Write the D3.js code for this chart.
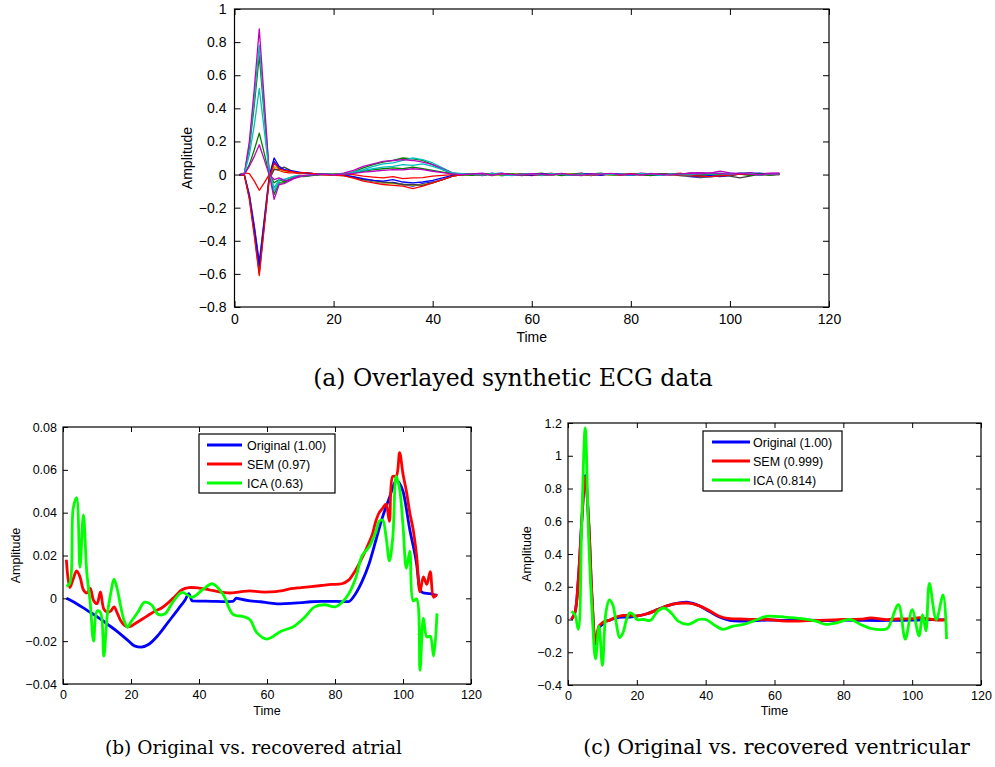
<!DOCTYPE html>
<html>
<head>
<meta charset="utf-8">
<script src="https://cdn.jsdelivr.net/npm/d3@7"></script>
<style>
  body { margin: 0; background: #fff; }
  svg text { font-family: "Liberation Sans", Arial, Helvetica, sans-serif; }
</style>
</head>
<body>
<svg id="chart" width="995" height="767"></svg>
<script>
// --- DATA ---

// (a) overlayed synthetic ECG, shared time grid
const ecgTime = [1,2,3,4,5,6,7,8,9,10,11,12,13,14,16,18,20,22,24,26,28,30,32,34,36,38,40,42,44,46,
  48,50,52,54,56,58,60,62,64,66,68,70,72,74,76,78,80,82,84,86,88,90,92,94,96,98,100,102,104,106,108,110];

const ecgBlue1 = [0,-0.005,-0.12,-0.31,-0.53,-0.27,-0.01,0.10,0.05,0.03,0.02,0.015,0.01,
  0.012,0.005,0,-0.002,-0.004,-0.014,-0.03,-0.042,-0.05,-0.048,-0.06,-0.07,-0.055,-0.045,-0.03,-0.01,0,
  0.004,-0.006,0.008,-0.004,0.003,-0.007,0.006,0,-0.005,0.007,-0.003,0.004,-0.006,0.005,-0.002,0.006,
  -0.004,0.003,-0.005,0.004,0.002,-0.006,-0.012,-0.018,-0.014,-0.008,0,0.006,0.01,-0.004,0.005,0.002];
const ecgGreen1 = [0,0.005,0.16,0.42,0.72,0.36,0.01,-0.12,-0.05,-0.05,-0.03,-0.02,-0.01,
  -0.012,-0.005,0,0.004,0.006,0.016,0.04,0.06,0.075,0.085,0.1,0.095,0.085,0.06,0.03,0.005,0,
  -0.004,0.005,-0.006,0.003,0.006,-0.005,0.002,0.008,-0.004,0.005,0,-0.006,0.004,0.009,-0.003,0.002,
  -0.005,0.006,0.003,-0.004,0.005,-0.002,0.008,0.006,-0.003,0.004,-0.006,0.002,0.007,-0.005,0.004,0];
const ecgRed1 = [0,0.01,0.005,-0.04,-0.095,-0.05,0,0.035,0.025,0.015,0.01,0.01,0.005,
  0.008,0.003,-0.002,0,0.005,0,-0.01,-0.015,-0.02,-0.012,-0.025,-0.02,-0.018,-0.01,-0.005,0,0.002,
  0.003,-0.004,0.006,-0.002,0.005,0,-0.006,0.004,0.007,-0.003,0.003,0.008,-0.002,0.004,-0.005,0.002,
  0.006,0,-0.004,0.005,0.003,0.008,-0.006,-0.004,0.002,0.006,-0.003,0.004,0,0.005,-0.002,0.003];
const ecgCyan1 = [0,0.004,0.18,0.46,0.78,0.4,0.02,-0.10,-0.04,-0.03,-0.02,-0.012,-0.005,
  -0.008,0,0.004,-0.002,0.006,0.015,0.03,0.05,0.065,0.07,0.085,0.1,0.09,0.07,0.04,0.01,0.005,
  0.006,-0.003,0.002,-0.008,0.004,0.001,0.005,-0.006,0.003,-0.002,0.006,-0.004,0.002,0.005,-0.003,0.004,
  0,-0.004,0.007,0.002,-0.003,0.004,0.006,0.01,0.004,-0.004,0.008,0.002,0.012,-0.003,0.006,0.004];
const ecgMagenta1 = [0,0.006,0.2,0.52,0.88,0.45,0.01,-0.15,-0.06,-0.055,-0.04,-0.025,-0.015,
  -0.01,-0.004,0.003,0,0.008,0.025,0.05,0.065,0.08,0.085,0.09,0.085,0.075,0.06,0.035,0.01,0,
  0.004,0.008,-0.003,0.005,0,0.006,-0.004,0.003,0.007,-0.002,0.004,0,0.006,-0.003,0.005,0.002,
  -0.002,0.008,0.004,0,0.006,0.003,0.01,0.012,0.008,0.02,0.01,0.006,0.012,0.004,0.008,0.01];
const ecgYellow1 = [0,-0.004,-0.13,-0.34,-0.57,-0.3,-0.02,0.05,0.03,0.02,0.02,0.015,0.01,
  0.01,0.004,0,-0.004,-0.006,-0.016,-0.03,-0.04,-0.05,-0.055,-0.06,-0.065,-0.06,-0.05,-0.03,-0.01,0,
  -0.003,0.004,0,-0.005,0.003,0.006,-0.002,0.004,-0.004,0.002,0.005,-0.003,0,0.004,-0.005,0.003,
  0.001,-0.004,0.005,0,-0.003,-0.006,-0.01,-0.014,-0.012,-0.006,-0.002,0.003,-0.003,0.004,0,0.002];
const ecgBlack = [0,-0.005,-0.14,-0.36,-0.60,-0.31,-0.03,0.03,0.03,0.045,0.03,0.015,0.012,
  0.01,0.006,0.002,-0.003,-0.007,-0.018,-0.03,-0.035,-0.045,-0.05,-0.06,-0.06,-0.065,-0.05,-0.03,-0.01,0,
  0.002,-0.004,0.005,0,-0.003,0.004,0.002,-0.005,0.003,0,-0.004,0.005,0.002,-0.003,0.004,-0.002,
  0.003,0,-0.005,0.004,0.001,-0.004,-0.008,-0.014,-0.01,-0.008,-0.01,-0.02,-0.01,0.002,-0.004,0];
const ecgBlue2 = [0,-0.004,-0.13,-0.33,-0.55,-0.29,-0.02,0.08,0.04,0.03,0.025,0.02,0.015,
  0.01,0.005,0.002,0,-0.004,-0.013,-0.025,-0.035,-0.04,-0.03,-0.045,-0.05,-0.045,-0.035,-0.02,-0.005,0,
  0.005,-0.002,0.004,0.008,-0.003,0.002,-0.005,0.006,0,0.004,-0.003,0.007,0.001,-0.004,0.005,0.002,
  -0.003,0.004,0,-0.004,0.003,-0.002,-0.008,-0.01,-0.006,-0.012,-0.004,0.003,0.006,0.008,0.002,0.004];
const ecgGreen2 = [0,0.003,0.06,0.15,0.25,0.13,0,-0.05,-0.03,-0.045,-0.03,-0.02,-0.01,
  -0.008,-0.003,0.002,0,0.003,0.009,0.02,0.03,0.035,0.04,0.035,0.045,0.035,0.025,0.015,0.005,0,
  -0.005,0.003,0.006,-0.002,0.004,-0.004,0.002,0,0.005,-0.006,0.003,0.002,-0.004,0.006,0,-0.003,
  0.004,0.002,-0.006,0.003,0,0.005,0.002,-0.004,0.004,0.006,-0.002,0.003,-0.005,0.004,-0.003,0.002];
const ecgRed2 = [0,-0.005,-0.15,-0.37,-0.61,-0.32,-0.03,0.07,0.035,0.025,0.02,0.015,0.01,
  0.012,0.006,0,-0.005,-0.007,-0.022,-0.04,-0.05,-0.06,-0.065,-0.07,-0.085,-0.07,-0.05,-0.03,-0.01,0,
  0.004,-0.003,0.002,0.006,-0.004,0.003,0,-0.005,0.004,0.006,-0.002,0.003,-0.005,0.002,0.005,-0.003,
  0.004,0,0.006,-0.002,0.003,-0.004,-0.006,-0.01,-0.012,-0.008,-0.004,0.002,0.005,0,0.004,0.002];
const ecgCyan2 = [0,0.004,0.12,0.3,0.52,0.27,0.01,-0.08,-0.03,-0.03,-0.02,-0.01,-0.008,
  -0.006,0,0.003,0,0.004,0.01,0.025,0.035,0.045,0.05,0.06,0.055,0.065,0.05,0.03,0.01,0.002,
  0.003,-0.004,0.005,0,-0.006,0.002,0.004,-0.005,0.006,0.001,-0.003,0.004,-0.002,0.005,0,0.003,
  -0.004,0.006,0.002,-0.005,0.004,0,-0.002,0.006,0.004,0.008,0,0.01,0.006,-0.002,0.004,0.003];
const ecgMagenta2 = [0,0.003,0.05,0.11,0.18,0.09,0,-0.03,-0.02,-0.035,-0.035,-0.02,-0.01,
  -0.006,0,0.003,-0.002,0.003,0.007,0.015,0.02,0.025,0.03,0.028,0.035,0.03,0.02,0.012,0.004,0,
  0.002,0.006,-0.003,0.004,0,-0.004,0.005,0.003,-0.002,0.006,0,-0.005,0.004,0.002,0.007,-0.002,
  0.003,-0.004,0.005,0.001,-0.003,0.004,0.007,0.004,0.01,0.006,0.002,0.008,0.003,-0.002,0.006,0.002];

const ecgSeries = [ecgBlue1, ecgGreen1, ecgRed1, ecgCyan1, ecgMagenta1, ecgYellow1,
  ecgBlack, ecgBlue2, ecgGreen2, ecgRed2, ecgCyan2, ecgMagenta2];
const ecgColors = ["#0000ff", "#008000", "#ff0000", "#00bfbf", "#bf00bf", "#bfbf00",
  "#404040", "#0000ff", "#008000", "#ff0000", "#00bfbf", "#bf00bf"];

// (b) atrial source
const atrialOrigTime = [1,4,7,10,13,16,19,21,23,25,28,31,34,36,37,38,41,44,47,50,51,52,55,58,61,64,67,70,73,76,79,
  82,84,86,88,90,92,94,96,98,100,102,104,105,106,108,110];
const atrialOrig = [0,-0.0025,-0.0055,-0.0085,-0.012,-0.0155,-0.0195,-0.0222,-0.0228,-0.0217,-0.0172,
  -0.011,-0.0048,-0.0005,0.0022,-0.0012,-0.0013,-0.0014,-0.0015,-0.0014,0.0001,
  -0.0003,-0.0012,-0.0016,-0.0022,-0.0026,-0.0024,-0.002,-0.0016,-0.0014,-0.0014,
  -0.0015,-0.0015,0.002,0.008,0.016,0.027,0.038,0.047,0.055,0.05,0.032,0.016,0.004,0.0025,0.0022,0.0012];

const atrialSemTime = [1,2,3,4,5,6,7,8,9,10,11,12,13,14,15,16,17,18,19,20,21,23,25,27,29,31,33,35,37,
  40,43,46,49,52,55,58,61,64,67,70,73,76,79,82,84,86,88,90,
  91,92,93,94,95,96,97,98,99,100,101,102,103,104,105,106,107,108,109,110];
const atrialSem = [0.018,0.005,0.009,0.0128,0.01,0.004,0.0025,0.0046,-0.001,-0.0025,0.003,-0.005,-0.0065,
  -0.006,-0.004,-0.007,-0.0105,-0.0125,-0.0133,-0.013,-0.012,
  -0.01,-0.008,-0.006,-0.0045,-0.002,0.001,0.004,0.005,
  0.0048,0.004,0.003,0.0025,0.003,0.0035,0.003,0.003,0.0035,0.0045,0.005,0.0055,0.006,0.0065,0.0068,
  0.0085,0.013,0.019,0.026,
  0.03,0.036,0.04,0.042,0.044,0.036,0.057,0.057,0.068,0.058,0.05,0.04,0.032,0.02,0.003,0.01,0.0065,0.0125,0.0005,0.002];

const atrialIcaTime = [1,2,3,4,5,6,7,8,9,10,11,12,13,14,15,16,17,18,19,20,22,24,26,28,30,32,
  35,38,41,44,47,50,53,55,57,60,64,68,71,74,77,80,82,84,86,88,90,92,
  93,94,95,96,97,98,99,100,101,102,103,104,105,106,107,108,109,110];
const atrialIca = [0.0056,0.007,0.042,0.047,0.0145,0.039,0.012,-0.002,-0.02,-0.006,-0.0065,-0.027,-0.008,0.002,0.0089,0.004,-0.004,-0.0105,-0.0135,-0.011,
  -0.0065,-0.0018,-0.003,-0.0075,-0.0072,-0.0025,
  0.0028,0.0005,0.004,0.0068,0.002,-0.0075,-0.0085,
  -0.01,-0.016,-0.019,-0.0155,-0.013,-0.009,-0.004,-0.003,-0.004,-0.002,0.002,0.009,0.02,0.024,0.031,
  0.036,0.0365,0.029,0.0175,0.0285,0.057,0.051,0.034,0.014,0.022,-0.0012,-0.0003,-0.0336,-0.0093,-0.018,-0.0177,-0.027,-0.007];

// (c) ventricular source
const ventOrigTime = [1,2,3,4,5,6,7,8,9,10,11,12,14,16,18,20,23,26,29,32,35,38,41,44,47,50,
  54,58,62,66,70,75,80,85,90,95,100,103,106,110];
const ventOrig = [0,0.04,0.25,0.6,0.88,0.6,0.12,-0.15,-0.05,-0.03,-0.01,-0.005,
  0.01,0.015,0.015,0.02,
  0.035,0.06,0.085,0.1,0.105,0.085,0.05,0.015,-0.005,-0.01,
  -0.008,-0.003,-0.005,-0.006,-0.004,-0.006,-0.004,-0.005,-0.006,-0.005,-0.004,-0.002,-0.001,-0.002];

const ventSemTime = [1,2,3,4,5,6,7,8,9,10,11,12,14,16,18,20,23,26,29,32,35,38,41,44,47,50,
  54,58,62,66,70,75,80,85,88,92,96,100,102,104,106,108,110];
const ventSem = [0,0.04,0.24,0.6,0.87,0.6,0.13,-0.14,-0.04,-0.02,-0.01,-0.005,
  0.015,0.025,0.025,0.022,
  0.035,0.06,0.085,0.098,0.1,0.085,0.055,0.02,0.005,0.003,
  0,0,-0.008,-0.01,-0.006,-0.004,0,0.002,0.01,0,0.003,0.005,0.012,0.005,0,-0.004,0];

const ventIcaTime = [1,2,3,4,5,6,7,8,9,10,11,12,13,14,15,16,17,18,19,20,22,24,26,28,30,32,
  35,38,40,43,45,48,51,55,58,63,68,72,75,78,82,85,88,92,93,96,98,100,102,103,104,105,107,109,110];
const ventIca = [0.05,0.03,-0.06,0.6,1.17,0.5,0.05,-0.24,-0.04,-0.28,0.04,0.12,0.09,-0.02,-0.11,-0.08,0,0.04,0.03,0,
  0,-0.005,0.05,0.07,0.04,-0.01,
  -0.03,0,0,-0.04,-0.06,-0.04,-0.03,
  0,0.02,0.015,0.005,-0.01,-0.03,-0.02,0,-0.03,-0.055,
  -0.06,-0.05,0.09,-0.12,0.06,-0.1,0.03,-0.07,0.22,0,0.15,-0.12];

// tick values and labels
const timeTicks = [0, 20, 40, 60, 80, 100, 120];
const ecgTicks = [-0.8, -0.6, -0.4, -0.2, 0, 0.2, 0.4, 0.6, 0.8, 1];
const atrialTicks = [-0.04, -0.02, 0, 0.02, 0.04, 0.06, 0.08];
const ventTicks = [-0.4, -0.2, 0, 0.2, 0.4, 0.6, 0.8, 1, 1.2];
const atrialLegend = ["Original (1.00)", "SEM (0.97)", "ICA (0.63)"];
const ventLegend = ["Original (1.00)", "SEM (0.999)", "ICA (0.814)"];
const legendColors = ["#0000ff", "#ff0000", "#00ff00"];
const captions = ["(a)  Overlayed synthetic ECG data", "(b)  Original vs. recovered atrial", "(c)  Original vs. recovered ventricular"];

// --- DRAWING ---

const svg = d3.select("#chart");
svg.append("rect").attr("width", 995).attr("height", 767).attr("fill", "#fff");

const fmt = v => d3.format("~g")(+v.toFixed(4));

// Draws one MATLAB-style axes box with inward ticks on all four sides
function drawPanel(opt) {
  const g = svg.append("g");
  const x = d3.scaleLinear().domain([0, 120]).range([opt.left, opt.right]);
  const y = d3.scaleLinear().domain([opt.yTicks[0], opt.yTicks[opt.yTicks.length - 1]]).range([opt.bottom, opt.top]);

  opt.series.forEach(s => {
    const line = d3.line().x(d => x(d[0])).y(d => y(d[1])).curve(s.curve || d3.curveLinear);
    g.append("path")
      .datum(d3.zip(s.t, s.v))
      .attr("d", line)
      .attr("fill", "none")
      .attr("stroke", s.color)
      .attr("stroke-width", opt.lw)
      .attr("stroke-linejoin", "round");
  });

  const styleAxis = sel => {
    sel.select(".domain").remove();
    sel.selectAll("line").attr("stroke", "#000").attr("stroke-width", 1);
    sel.attr("font-size", opt.fs).attr("font-family", null);
    sel.selectAll("text").attr("fill", "#000");
  };

  g.append("g").attr("transform", `translate(0,${opt.bottom})`)
    .call(d3.axisBottom(x).tickValues(timeTicks).tickSizeInner(-opt.tick).tickSizeOuter(0).tickPadding(opt.padX).tickFormat(fmt))
    .call(styleAxis);
  g.append("g").attr("transform", `translate(0,${opt.top})`)
    .call(d3.axisTop(x).tickValues(timeTicks).tickSizeInner(-opt.tick).tickSizeOuter(0).tickFormat(""))
    .call(styleAxis);
  g.append("g").attr("transform", `translate(${opt.left},0)`)
    .call(d3.axisLeft(y).tickValues(opt.yTicks).tickSizeInner(-opt.tick).tickSizeOuter(0).tickPadding(opt.padY).tickFormat(fmt))
    .call(styleAxis);
  g.append("g").attr("transform", `translate(${opt.right},0)`)
    .call(d3.axisRight(y).tickValues(opt.yTicks).tickSizeInner(-opt.tick).tickSizeOuter(0).tickFormat(""))
    .call(styleAxis);

  g.append("rect")
    .attr("x", opt.left).attr("y", opt.top)
    .attr("width", opt.right - opt.left).attr("height", opt.bottom - opt.top)
    .attr("fill", "none").attr("stroke", "#000").attr("stroke-width", 1.2);

  g.append("text")
    .attr("x", (opt.left + opt.right) / 2).attr("y", opt.timeY)
    .attr("text-anchor", "middle").attr("font-size", opt.fs)
    .text("Time");
  g.append("text")
    .attr("transform", `translate(${opt.ampX},${(opt.top + opt.bottom) / 2}) rotate(-90)`)
    .attr("text-anchor", "middle").attr("font-size", opt.fs)
    .text("Amplitude");

  if (opt.legend) {
    const L = opt.legend;
    g.append("rect")
      .attr("x", L.x).attr("y", L.y).attr("width", L.w).attr("height", L.h)
      .attr("fill", "#fff").attr("stroke", "#000").attr("stroke-width", 1.2);
    L.labels.forEach((lab, i) => {
      const yy = L.y + L.row0 + i * L.rowStep;
      g.append("line")
        .attr("x1", L.x + L.lineX0).attr("x2", L.x + L.lineX1)
        .attr("y1", yy).attr("y2", yy)
        .attr("stroke", legendColors[i]).attr("stroke-width", opt.lw);
      g.append("text")
        .attr("x", L.x + L.textX).attr("y", yy).attr("dy", "0.36em")
        .attr("font-size", opt.fs)
        .text(lab);
    });
  }
}

// smooth sources get a monotone curve, recovered ones a Catmull-Rom through every sample
const smooth = d3.curveMonotoneX;
const through = d3.curveCatmullRom.alpha(0.5);

drawPanel({
  left: 234.5, right: 829, top: 9, bottom: 307,
  yTicks: ecgTicks, tick: 6, padX: 7, padY: 8, fs: 14, lw: 1.3,
  timeY: 342, ampX: 192,
  series: ecgSeries.map((v, i) => ({ t: ecgTime, v: v, color: ecgColors[i] }))
});

drawPanel({
  left: 63, right: 471, top: 427, bottom: 684,
  yTicks: atrialTicks, tick: 5, padX: 6, padY: 6, fs: 12.5, lw: 2.8,
  timeY: 715, ampX: 20,
  series: [
    { t: atrialOrigTime, v: atrialOrig, color: legendColors[0], curve: smooth },
    { t: atrialSemTime, v: atrialSem, color: legendColors[1], curve: through },
    { t: atrialIcaTime, v: atrialIca, color: legendColors[2], curve: through }
  ],
  legend: { x: 199, y: 434, w: 136, h: 59, row0: 11, rowStep: 19, lineX0: 8, lineX1: 43, textX: 48, labels: atrialLegend }
});

drawPanel({
  left: 568, right: 981, top: 423, bottom: 685,
  yTicks: ventTicks, tick: 5, padX: 6, padY: 6, fs: 12.5, lw: 2.8,
  timeY: 715, ampX: 531,
  series: [
    { t: ventOrigTime, v: ventOrig, color: legendColors[0], curve: through },
    { t: ventSemTime, v: ventSem, color: legendColors[1], curve: through },
    { t: ventIcaTime, v: ventIca, color: legendColors[2], curve: through }
  ],
  legend: { x: 703, y: 431, w: 139, h: 60, row0: 11, rowStep: 19, lineX0: 9, lineX1: 47, textX: 50, labels: ventLegend }
});

// captions, set in a serif face and fitted to the reference widths
const capSpecs = [
  { text: captions[0], x: 513, y: 386, w: 400 },
  { text: captions[1], x: 253.5, y: 754, w: 297 },
  { text: captions[2], x: 776.5, y: 754, w: 387 }
];
capSpecs.forEach(c => {
  const t = svg.append("text")
    .attr("x", c.x).attr("y", c.y)
    .attr("text-anchor", "middle")
    .style("font-family", "'DejaVu Serif', 'Liberation Serif', serif")
    .attr("font-size", 22)
    .text(c.text);
  const len = t.node().getComputedTextLength();
  t.attr("font-size", 22 * c.w / len);
});
</script>
</body>
</html>
